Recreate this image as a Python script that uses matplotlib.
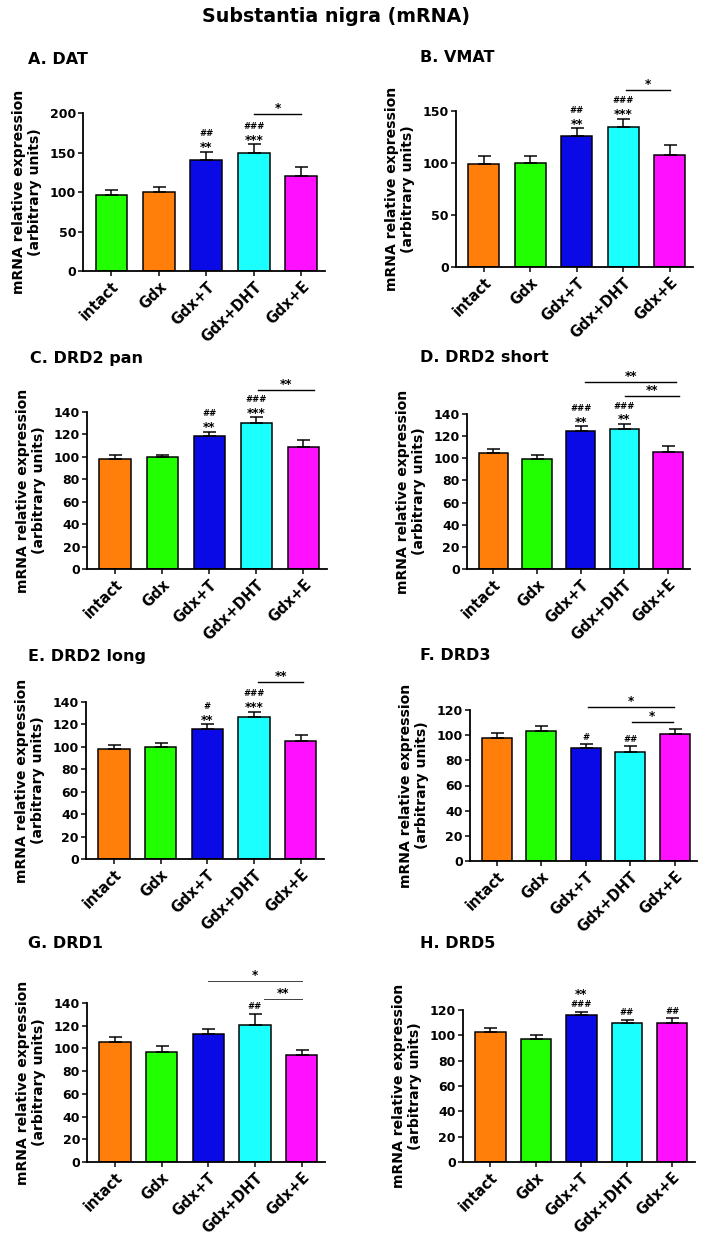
import numpy as np
import matplotlib.pyplot as plt

plt.rcParams['font.family'] = 'DejaVu Sans'
plt.rcParams['font.weight'] = 'bold'

# groups and colours
groups = ['intact', 'Gdx', 'Gdx+T', 'Gdx+DHT', 'Gdx+E']
col_green = '#22ff00'
col_orange = '#ff7f0a'
col_blue = '#0a0ae6'
col_cyan = '#1cffff'
col_magenta = '#ff10ff'

# values (mean, upper SEM)
dat_mean = [96.5, 100, 140.5, 150, 120.5]
dat_err = [6.5, 6.5, 10.5, 10.5, 11]
vmat_mean = [99.5, 100, 126, 135, 108]
vmat_err = [7, 6.5, 7.5, 7.5, 9.5]
drd2pan_mean = [98.5, 100, 118.5, 130, 109]
drd2pan_err = [3.5, 2, 4, 5.5, 6]
drd2short_mean = [104.5, 99.5, 124.5, 126.5, 105.5]
drd2short_err = [4, 3.5, 4.5, 4.5, 5.5]
drd2long_mean = [98, 100, 116, 126.5, 105]
drd2long_err = [4, 3, 4, 5, 6]
drd3_mean = [97.5, 103.5, 90, 87, 101]
drd3_err = [4.5, 4, 3, 4, 4]
drd1_mean = [106, 96.5, 112.5, 121, 94.5]
drd1_err = [4.5, 5.5, 5, 9.5, 4.5]
drd5_mean = [102.5, 97, 116, 109.5, 110]
drd5_err = [3, 3.5, 2.5, 3, 3.5]

# significance marks above bars (bottom line first)
marks_a = [[], [], ['**', '##'], ['***', '###'], []]
marks_d = [[], [], ['**', '###'], ['**', '###'], []]
marks_e = [[], [], ['**', '#'], ['***', '###'], []]
marks_f = [[], [], ['#'], ['##'], []]
marks_g = [[], [], [], ['##'], []]
marks_h = [[], [], ['###', '**'], ['##'], ['##']]

W, H = 701, 1239
fig = plt.figure(figsize=(W / 72, H / 72), dpi=72)
fig.text(336 / W, 1 - 16 / H, 'Substantia nigra (mRNA)', ha='center', va='center',
         fontsize=19, fontweight='bold')


def add_ax(l, r, t, b):
    return fig.add_axes([l / W, 1 - b / H, (r - l) / W, (b - t) / H])


def annot(ax, x, y, txt, center_px, size):
    k = 0.58 if '*' in txt else 0.36
    ax.annotate(txt, (x, y), xytext=(0, center_px - k * size), textcoords='offset points',
                ha='center', va='baseline', fontsize=size, fontweight='bold',
                annotation_clip=False)


panels = [
    dict(title='A. DAT', box=(83, 325, 113, 271), tpos=(28, 59), mean=dat_mean, err=dat_err,
         colors=[col_green, col_orange, col_blue, col_cyan, col_magenta],
         yticks=np.arange(0, 201, 50), marks=marks_a,
         brackets=[(3.0, 4.0, 199, '*')], blw=1.4, bcol='black'),
    dict(title='B. VMAT', box=(456, 693, 111, 267), tpos=(420, 58), mean=vmat_mean, err=vmat_err,
         colors=[col_orange, col_green, col_blue, col_cyan, col_magenta],
         yticks=np.arange(0, 151, 50), marks=marks_a,
         brackets=[(3.05, 4.0, 170, '*')], blw=1.4, bcol='black'),
    dict(title='C. DRD2 pan', box=(87, 327, 412, 569), tpos=(30, 358), mean=drd2pan_mean,
         err=drd2pan_err, colors=[col_orange, col_green, col_blue, col_cyan, col_magenta],
         yticks=np.arange(0, 141, 20), marks=marks_a,
         brackets=[(3.03, 4.23, 160, '**')], blw=1.4, bcol='black'),
    dict(title='D. DRD2 short', box=(467, 690, 414, 569), tpos=(420, 358), mean=drd2short_mean,
         err=drd2short_err, colors=[col_orange, col_green, col_blue, col_cyan, col_magenta],
         yticks=np.arange(0, 141, 20), marks=marks_d,
         brackets=[(2.1, 4.18, 169, '**'), (3.01, 4.25, 156, '**')], blw=1.4, bcol='black'),
    dict(title='E. DRD2 long', box=(86, 324, 702, 859), tpos=(28, 657), mean=drd2long_mean,
         err=drd2long_err, colors=[col_orange, col_green, col_blue, col_cyan, col_magenta],
         yticks=np.arange(0, 141, 20), marks=marks_e,
         brackets=[(3.09, 4.05, 158, '**')], blw=1.4, bcol='black'),
    dict(title='F. DRD3', box=(470, 697, 710, 861), tpos=(420, 656), mean=drd3_mean,
         err=drd3_err, colors=[col_orange, col_green, col_blue, col_cyan, col_magenta],
         yticks=np.arange(0, 121, 20), marks=marks_f,
         brackets=[(2.05, 3.99, 122.4, '*'), (3.04, 3.95, 110.7, '*')], blw=1.4, bcol='black'),
    dict(title='G. DRD1', box=(87, 325, 1003, 1162), tpos=(28, 944), mean=drd1_mean,
         err=drd1_err, colors=[col_orange, col_green, col_blue, col_cyan, col_magenta],
         yticks=np.arange(0, 141, 20), marks=marks_g,
         brackets=[(2.0, 4.0, 159, '*'), (3.2, 4.0, 143.5, '**')], blw=1.0, bcol='#444444'),
    dict(title='H. DRD5', box=(463, 695, 1010, 1162), tpos=(420, 944), mean=drd5_mean,
         err=drd5_err, colors=[col_orange, col_green, col_blue, col_cyan, col_magenta],
         yticks=np.arange(0, 121, 20), marks=marks_h, brackets=[], blw=1.4, bcol='black'),
]

x = np.arange(len(groups))
for p in panels:
    ax = add_ax(*p['box'])
    ax.bar(x, p['mean'], width=0.67, color=p['colors'], edgecolor='black', linewidth=1.5,
           zorder=2)
    ax.errorbar(x, p['mean'], yerr=[np.zeros(len(x)), p['err']], fmt='none', ecolor='black',
                elinewidth=1.5, capsize=6.5, capthick=1.5, zorder=3)
    ax.set_xlim(-0.6, 4.5)
    ax.set_ylim(0, p['yticks'][-1])
    ax.set_yticks(p['yticks'])
    ax.set_xticks(x)
    ax.set_xticklabels(groups, rotation=45, ha='right', rotation_mode='anchor', fontsize=14.5)
    ax.tick_params(axis='y', labelsize=12.5, length=5, width=1.5, pad=2)
    ax.tick_params(axis='x', length=5, width=1.5, pad=3)
    for s in ['top', 'right']:
        ax.spines[s].set_visible(False)
    for s in ['left', 'bottom']:
        ax.spines[s].set_linewidth(1.8)
    ax.set_ylabel('mRNA relative expression\n(arbitrary units)', fontsize=14,
                  fontweight='bold', labelpad=8)

    for i, mk in enumerate(p['marks']):
        top = p['mean'][i] + p['err'][i]
        for j, t in enumerate(mk):
            size = 12 if '*' in t else 8.5
            # stars above hashes need a little more room
            step = 13.5 if (j and '#' in mk[0]) else 11
            annot(ax, i, top, t, 7.5 + step * j, size)

    for x0, x1, yb, lab in p['brackets']:
        ax.plot([x0, x1], [yb, yb], color=p['bcol'], lw=p['blw'], clip_on=False, zorder=4)
        annot(ax, (x0 + x1) / 2, yb, lab, 9, 12)

    fig.text(p['tpos'][0] / W, 1 - p['tpos'][1] / H, p['title'], ha='left', va='center',
             fontsize=16, fontweight='bold')

fig.savefig('out.png', dpi=72)
